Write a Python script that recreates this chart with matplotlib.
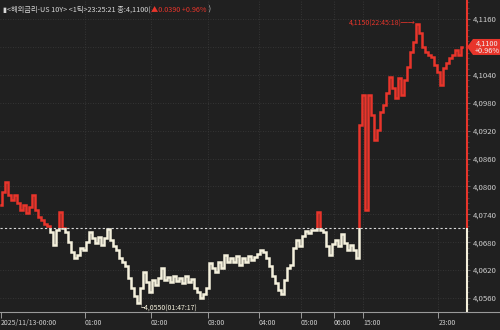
import matplotlib
matplotlib.use("Agg")
import matplotlib.pyplot as plt
from matplotlib.patches import Rectangle, Polygon
from matplotlib.ticker import FixedLocator, FuncFormatter, MultipleLocator
import numpy as np

# ---- data (US 10Y yield, tick chart) ----
prices = [
    4.0760, 4.0788, 4.0810, 4.0782, 4.0771, 4.0782, 4.0764, 4.0749, 4.0760, 4.0743,
    4.0756, 4.0782, 4.0749, 4.0734, 4.0728, 4.0719, 4.0715, 4.0702, 4.0674, 4.0706,
    4.0745, 4.0710, 4.0702, 4.0681, 4.0659, 4.0646, 4.0653, 4.0668, 4.0663, 4.0681,
    4.0702, 4.0689, 4.0678, 4.0691, 4.0674, 4.0689, 4.0708, 4.0685, 4.0672, 4.0663,
    4.0646, 4.0638, 4.0629, 4.0603, 4.0582, 4.0564, 4.0550, 4.0582, 4.0616, 4.0595,
    4.0573, 4.0599, 4.0588, 4.0603, 4.0625, 4.0599, 4.0605, 4.0595, 4.0607, 4.0597,
    4.0603, 4.0592, 4.0607, 4.0595, 4.0601, 4.0582, 4.0573, 4.0560, 4.0569, 4.0582,
    4.0635, 4.0625, 4.0616, 4.0638, 4.0625, 4.0653, 4.0638, 4.0646, 4.0638, 4.0650,
    4.0631, 4.0646, 4.0638, 4.0650, 4.0642, 4.0648, 4.0655, 4.0663, 4.0659, 4.0646,
    4.0629, 4.0607, 4.0592, 4.0577, 4.0569, 4.0599, 4.0625, 4.0631, 4.0668, 4.0685,
    4.0672, 4.0693, 4.0704, 4.0700, 4.0706, 4.0706, 4.0745, 4.0706, 4.0702, 4.0672,
    4.0653, 4.0676, 4.0685, 4.0672, 4.0698, 4.0678, 4.0663, 4.0674, 4.0663, 4.0646,
    4.0932, 4.0997, 4.0749, 4.0997, 4.0954, 4.0900, 4.0921, 4.0960, 4.0975, 4.1001,
    4.1035, 4.1012, 4.0990, 4.1033, 4.0997, 4.1029, 4.1057, 4.1089, 4.1111, 4.1150,
    4.1130, 4.1100, 4.1089, 4.1083, 4.1078, 4.1061, 4.1046, 4.1018, 4.1055, 4.1065,
    4.1076, 4.1083, 4.1093, 4.1083, 4.1100,
]
prev_close = 4.0710
last_price = 4.1100
change = 0.0390
change_pct = 0.96
high_price, high_time = 4.1150, "22:45:18"
low_price, low_time = 4.0550, "01:47:17"

time_labels = ["2025/11/13-00:00", "01:00", "02:00", "03:00", "04:00",
               "05:00", "06:00", "15:00", "23:00"]
time_tick_idx = [0, 28, 50, 69, 86, 100, 111, 121, 146]
y_ticks = [4.0560, 4.0620, 4.0680, 4.0740, 4.0800, 4.0860, 4.0920,
           4.0980, 4.1040, 4.1100, 4.1160]

# ---- style ----
BG = "#202020"
RED = "#e8352b"
CREAM = "#f4f0dc"
GRID = "#3c3c3c"
TXT = "#cfcfcf"
FONT = ["Noto Sans CJK KR", "DejaVu Sans"]
plt.rcParams["font.family"] = FONT
FS = 5.0

W, H = 500, 330
fig = plt.figure(figsize=(W / 100, H / 100), dpi=100, facecolor=BG)
ax = fig.add_axes([0, 18 / H, 467 / W, 312 / H], facecolor=BG)

x = np.arange(len(prices))
y = np.array(prices)
xmin, xmax = -0.3, len(prices) + 0.55
ymin, ymax = 4.0530, 4.1201
ax.set_xlim(xmin, xmax)
ax.set_ylim(ymin, ymax)

# grid
for t in y_ticks:
    ax.axhline(t, color=GRID, lw=0.6, ls=(0, (1, 2)), zorder=0)
for t in time_tick_idx[1:]:
    ax.axvline(t, color=GRID, lw=0.6, ls=(0, (1, 2)), zorder=0)

# price line split at previous close
clip_up = Rectangle((xmin, prev_close), xmax - xmin, ymax - prev_close,
                    transform=ax.transData)
clip_dn = Rectangle((xmin, ymin), xmax - xmin, prev_close - ymin,
                    transform=ax.transData)
for col, clip in ((RED, clip_up), (CREAM, clip_dn)):
    ln, = ax.plot(x, y, color=col, lw=1.8, drawstyle="steps-mid", zorder=3,
                  solid_joinstyle="miter")
    ln.set_clip_path(clip)

# previous close dotted line
ax.axhline(prev_close, color="#d8d8d8", lw=0.8, ls=(0, (2, 2)), zorder=4)

# right edge vertical line coloured by side
ax.vlines(xmax, prev_close, ymax, color=RED, lw=1.5, clip_on=False, zorder=5)
ax.vlines(xmax, ymin, prev_close, color=CREAM, lw=1.5, clip_on=False, zorder=5)

# spines
for s in ["top", "left", "right"]:
    ax.spines[s].set_visible(False)
ax.spines["bottom"].set_color("#9a9a9a")
ax.spines["bottom"].set_linewidth(0.8)
fig.add_artist(plt.Line2D([467 / W, 1], [18 / H, 18 / H], color="#9a9a9a",
                          lw=0.8, transform=fig.transFigure))

# x ticks
ax.xaxis.set_major_locator(FixedLocator(time_tick_idx))
ax.set_xticklabels(time_labels)
ax.tick_params(axis="x", colors="#9a9a9a", length=4, width=0.7, pad=1,
               labelsize=FS, labelcolor=TXT)
for lbl in ax.get_xticklabels():
    lbl.set_horizontalalignment("left")

# y ticks on right
ax.yaxis.tick_right()
ax.yaxis.set_major_locator(FixedLocator(y_ticks))
ax.yaxis.set_minor_locator(MultipleLocator(0.0012))
ax.yaxis.set_major_formatter(FuncFormatter(
    lambda v, p: "" if abs(v - last_price) < 1e-6 else f"{v:.4f}".replace(".", ",")))
ax.tick_params(axis="y", which="major", colors="#777777", length=2, width=0.6,
               pad=2, labelsize=5.6, labelcolor=TXT)
ax.tick_params(axis="y", which="minor", colors="#555555", length=1.5, width=0.5)

# high / low annotations
hi_i = int(np.argmax(y))
lo_i = int(np.argmin(y))
ax.text(hi_i - 0.6, high_price, f"{high_price:.4f}".replace(".", ",") + f"({high_time})─→",
        color=RED, fontsize=FS, ha="right", va="center", zorder=6)
ax.text(lo_i - 0.3, low_price - 0.0002, "└" + f"{low_price:.4f}".replace(".", ",") + f"({low_time})",
        color=CREAM, fontsize=FS, ha="left", va="top", zorder=6)

# last price tag
fig.canvas.draw()
px, py = ax.transData.transform((xmax, last_price))
tag = [(px, py), (px + 6, py + 8), (W, py + 8), (W, py - 8), (px + 6, py - 8)]
tag = [(a / W, b_ / H) for a, b_ in tag]
fig.add_artist(Polygon(tag, closed=True, transform=fig.transFigure,
                       facecolor=RED, edgecolor="none", zorder=10))
fig.text((px + 20) / W, (py + 3.5) / H, f"{last_price:.4f}".replace(".", ","),
         color="#f0f0f0", fontsize=5.3, ha="center", va="center", zorder=11)
fig.text((px + 20) / W, (py - 4) / H, f"+{change_pct:.2f}%",
         color="#f0f0f0", fontsize=5.3, ha="center", va="center", zorder=11)

# header
parts = [("▮", "#d8d8d8"),
         ("<해외금리-US 10Y> <1틱>23:25:21 종:" + f"{last_price:.4f}".replace(".", ",") + "(", "#d8d8d8"),
         (f"▲{change:.4f} +{change_pct:.2f}%", RED),
         (" )", "#d8d8d8")]
renderer = fig.canvas.get_renderer()
cx = 2 / W
for s, c in parts:
    t = fig.text(cx, 1 - 10 / H, s, color=c, fontsize=5.2, ha="left", va="center",
                 zorder=12)
    bb = t.get_window_extent(renderer)
    cx = bb.x1 / W + 0.5 / W

fig.savefig("out.png", dpi=100, facecolor=BG)
